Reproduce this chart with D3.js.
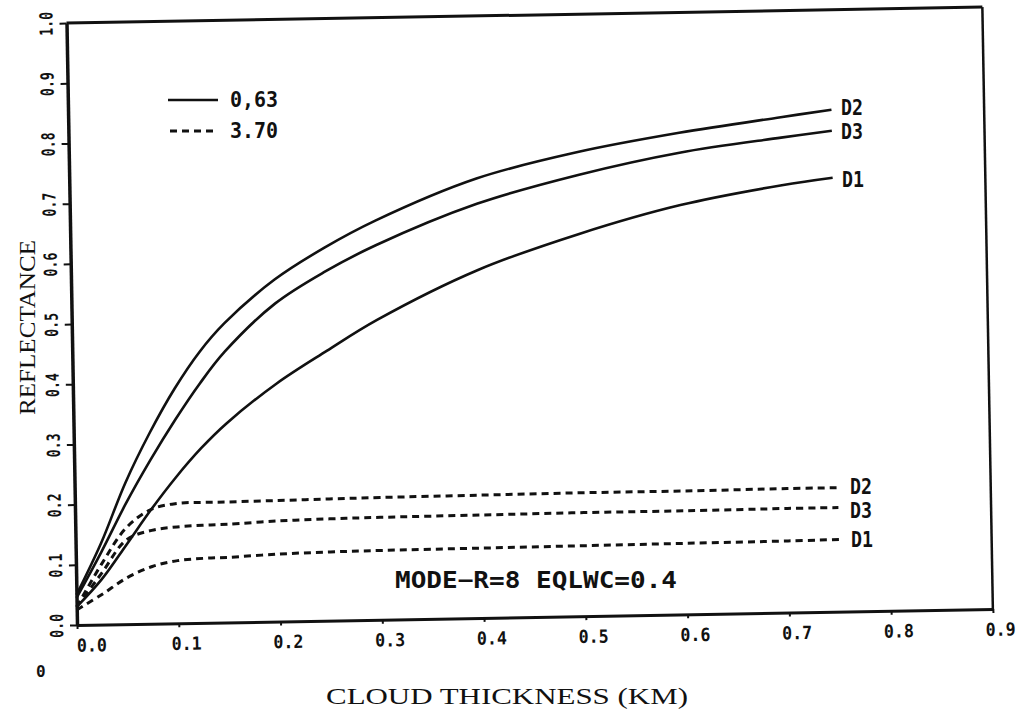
<!DOCTYPE html>
<html>
<head>
<meta charset="utf-8">
<script src="https://cdn.jsdelivr.net/npm/d3@7"></script>
<style>
  body { margin: 0; background: #fff; }
  svg { display: block; }
  .lbl { font-family: "DejaVu Sans Mono", monospace; font-weight: bold; fill: #111; }
  .title { font-family: "Liberation Serif", "DejaVu Serif", serif; fill: #111; }
</style>
</head>
<body>
<div id="chart"></div>
<script>
// Reflectance vs cloud thickness

var thickness = [0, 0.025, 0.05, 0.075, 0.1, 0.125, 0.15, 0.2, 0.25, 0.3, 0.4, 0.5, 0.6, 0.7, 0.75];

// 0.63 um (solid)
var d1_063 = [0.03, 0.075, 0.132, 0.19, 0.243, 0.29, 0.33, 0.395, 0.448, 0.498, 0.578, 0.635, 0.68, 0.71, 0.721];
var d2_063 = [0.05, 0.135, 0.235, 0.318, 0.39, 0.45, 0.497, 0.568, 0.62, 0.663, 0.73, 0.771, 0.80, 0.823, 0.834];
var d3_063 = [0.045, 0.12, 0.2, 0.272, 0.338, 0.398, 0.45, 0.528, 0.58, 0.622, 0.688, 0.733, 0.767, 0.789, 0.799];

// 3.70 um (dashed)
var d1_370 = [0.025, 0.05, 0.077, 0.095, 0.104, 0.107, 0.108, 0.112, 0.114, 0.115, 0.116, 0.117, 0.118, 0.119, 0.12];
var d2_370 = [0.03, 0.10, 0.16, 0.19, 0.199, 0.2, 0.2, 0.201, 0.202, 0.203, 0.204, 0.205, 0.205, 0.206, 0.206];
var d3_370 = [0.03, 0.085, 0.14, 0.155, 0.16, 0.162, 0.163, 0.167, 0.169, 0.17, 0.171, 0.172, 0.172, 0.173, 0.173];

var xTicks = [0, 0.1, 0.2, 0.3, 0.4, 0.5, 0.6, 0.7, 0.8, 0.9];
var yTicks = [0, 0.1, 0.2, 0.3, 0.4, 0.5, 0.6, 0.7, 0.8, 0.9, 1.0];

var series = [
  {name: "D2", values: d2_063, dash: null},
  {name: "D3", values: d3_063, dash: null},
  {name: "D1", values: d1_063, dash: null},
  {name: "D2", values: d2_370, dash: "7,5"},
  {name: "D3", values: d3_370, dash: "7,5"},
  {name: "D1", values: d1_370, dash: "7,5"}
];

var width = 1021, height = 713;
var x0 = 77, y0 = 625;

var x = d3.scaleLinear().domain([0, 0.9]).range([x0, 993]);
var y = d3.scaleLinear().domain([0, 1]).range([y0, 23]);

var svg = d3.select("#chart").append("svg")
    .attr("width", width)
    .attr("height", height);

// the scan is tilted about one degree
var g = svg.append("g")
    .attr("transform", "rotate(-1," + x0 + "," + y0 + ")");

// axes
var xAxis = g.append("g")
    .attr("transform", "translate(0," + y0 + ")")
    .call(d3.axisBottom(x).tickValues(xTicks).tickSize(4).tickSizeOuter(0).tickFormat(d3.format(".1f")));
xAxis.select(".domain").attr("stroke", "#111").attr("stroke-width", 3);
xAxis.selectAll(".tick line").attr("stroke", "#111").attr("stroke-width", 2);
xAxis.selectAll(".tick text")
    .style("font-family", "'DejaVu Sans Mono', monospace")
    .style("font-size", "18px")
    .style("font-weight", "bold")
    .attr("fill", "#111")
    .attr("y", 14)
    .attr("textLength", 30)
    .attr("lengthAdjust", "spacingAndGlyphs")
    .attr("dx", function(d) { return d === 0 ? 14 : 7; });

var yAxis = g.append("g")
    .attr("transform", "translate(" + x0 + ",0)")
    .call(d3.axisLeft(y).tickValues(yTicks).tickSize(7).tickSizeOuter(0).tickFormat(d3.format(".1f")));
yAxis.select(".domain").attr("stroke", "#111").attr("stroke-width", 3.5);
yAxis.selectAll(".tick line").attr("stroke", "#111").attr("stroke-width", 2);
yAxis.selectAll(".tick text")
    .style("font-family", "'DejaVu Sans Mono', monospace")
    .style("font-size", "18px")
    .style("font-weight", "bold")
    .attr("fill", "#111")
    .attr("transform", "rotate(-90)")
    .attr("x", 0)
    .attr("y", -14)
    .attr("dy", 0)
    .attr("textLength", 24)
    .attr("lengthAdjust", "spacingAndGlyphs")
    .attr("text-anchor", "middle");

// top and right frame
g.append("line")
    .attr("x1", x(0)).attr("x2", x(0.9))
    .attr("y1", y(1)).attr("y2", y(1))
    .attr("stroke", "#111").attr("stroke-width", 3);
g.append("line")
    .attr("x1", x(0.9)).attr("x2", x(0.9))
    .attr("y1", y(0)).attr("y2", y(1))
    .attr("stroke", "#111").attr("stroke-width", 2.5);

// curves
var line = d3.line()
    .x(function(d, i) { return x(thickness[i]); })
    .y(function(d) { return y(d); })
    .curve(d3.curveCatmullRom.alpha(0.5));

g.selectAll(".curve")
    .data(series)
  .enter().append("path")
    .attr("class", "curve")
    .attr("d", function(d) { return line(d.values); })
    .attr("fill", "none")
    .attr("stroke", "#111")
    .attr("stroke-width", function(d) { return d.dash ? 3 : 2.6; })
    .attr("stroke-dasharray", function(d) { return d.dash; });

// curve labels (placed in page coords, like the scan)
var labelPos = [[841, 115], [841, 139], [842, 187], [850, 494], [850, 518], [851, 547]];
svg.selectAll(".clabel")
    .data(series)
  .enter().append("text")
    .attr("class", "lbl clabel")
    .attr("x", function(d, i) { return labelPos[i][0]; })
    .attr("y", function(d, i) { return labelPos[i][1]; })
    .attr("font-size", function(d) { return d.dash ? 21 : 22; })
    .attr("textLength", 22)
    .attr("lengthAdjust", "spacingAndGlyphs")
    .text(function(d) { return d.name; });

// legend
svg.append("line")
    .attr("x1", 168).attr("x2", 218).attr("y1", 100).attr("y2", 100)
    .attr("stroke", "#111").attr("stroke-width", 2.6);
svg.append("line")
    .attr("x1", 170).attr("x2", 218).attr("y1", 131).attr("y2", 131)
    .attr("stroke", "#111").attr("stroke-width", 3).attr("stroke-dasharray", "7,5");
svg.append("text").attr("class", "lbl")
    .attr("x", 230).attr("y", 107).attr("font-size", 21)
    .attr("textLength", 48).attr("lengthAdjust", "spacingAndGlyphs")
    .text("0,63");
svg.append("text").attr("class", "lbl")
    .attr("x", 230).attr("y", 138).attr("font-size", 21)
    .attr("textLength", 48).attr("lengthAdjust", "spacingAndGlyphs")
    .text("3.70");

// annotation
svg.append("text").attr("class", "lbl")
    .attr("x", 395).attr("y", 588).attr("font-size", 23)
    .attr("textLength", 282).attr("lengthAdjust", "spacingAndGlyphs")
    .text("MODE\u2212R=8 EQLWC=0.4");

// stray zero under the axis
svg.append("text").attr("class", "lbl")
    .attr("x", 36).attr("y", 677).attr("font-size", 16)
    .text("0");

// axis titles
svg.append("text").attr("class", "title")
    .attr("x", 326).attr("y", 704).attr("font-size", 24)
    .attr("textLength", 362).attr("lengthAdjust", "spacingAndGlyphs")
    .text("CLOUD THICKNESS (KM)");

svg.append("text").attr("class", "title")
    .attr("transform", "translate(35,415) rotate(-90)")
    .attr("font-size", 24)
    .attr("textLength", 175).attr("lengthAdjust", "spacingAndGlyphs")
    .text("REFLECTANCE");
</script>
</body>
</html>
